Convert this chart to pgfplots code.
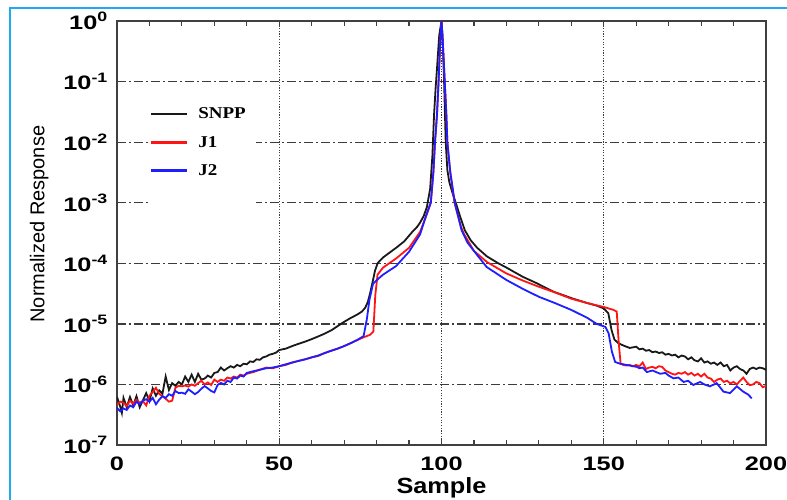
\documentclass[border=0pt]{standalone}
\usepackage{pgfplots}
\pgfplotsset{compat=1.18}
\usepackage{fontspec}
\setmainfont{Liberation Sans}
\newfontfamily\tickfont[FakeStretch=1.3]{Liberation Sans}
\newfontfamily\labfont[FakeStretch=1.15]{Liberation Sans}
\newfontfamily\legfont[FakeStretch=1.15]{Liberation Serif}
\definecolor{framebl}{RGB}{30,170,240}
\definecolor{snpp}{RGB}{25,25,25}
\definecolor{jone}{RGB}{255,20,20}
\definecolor{jtwo}{RGB}{30,30,255}
\definecolor{gridc}{RGB}{60,60,60}

\pgfplotstableread{
x y
0 6.2e-7
1 4.3e-7
1.5 3.4e-7
2 6.0e-7
3 4.2e-7
4 6.2e-7
5 4.5e-7
6 6.4e-7
7 4.2e-7
8 5.5e-7
9 7.2e-7
10 5.3e-7
11 8.6e-7
12 6.5e-7
13 8.0e-7
14 7.0e-7
15 1.35e-6
16 8.1e-7
17 1.05e-6
18 9.5e-7
19 1.1e-6
20 1.0e-6
21 1.35e-6
22 1.1e-6
23 1.45e-6
24 1.1e-6
25 1.5e-6
26 1.2e-6
27 1.25e-6
28 1.4e-6
29 1.3e-6
30 1.55e-6
31 1.6e-6
32 1.9e-6
33 1.7e-6
34 1.85e-6
35 2.0e-6
36 1.9e-6
37 2.1e-6
38 2.0e-6
39 2.2e-6
40 2.15e-6
41 2.4e-6
42 2.35e-6
43 2.6e-6
44 2.55e-6
45 2.8e-6
46 2.9e-6
47 3.1e-6
48 3.2e-6
49 3.35e-6
50 3.7e-6
52 3.9e-6
54 4.3e-6
56 4.7e-6
58 5.1e-6
60 5.6e-6
62 6.2e-6
64 6.9e-6
66 7.8e-6
68 9.2e-6
70 1.08e-5
72 1.25e-5
74 1.42e-5
75.5 1.6e-5
76.5 1.85e-5
77.3 2.3e-5
78 3.2e-5
78.8 5.0e-5
79.5 7.5e-5
80.3 1.0e-4
81 1.1e-4
82 1.25e-4
84 1.5e-4
86.3 1.85e-4
88.5 2.3e-4
91 3.3e-4
92.5 4.0e-4
93.3 4.6e-4
94.5 6.0e-4
95.5 8.5e-4
96.5 1.7e-3
97.2 6e-3
97.7 2.8e-2
98.2 8e-2
98.6 0.16
99.3 0.58
100 1
100.3 0.58
100.8 0.1
101.3 0.01
101.8 3.5e-3
102.4 2.2e-3
103.3 1.5e-3
104.4 1.0e-3
105.7 6e-4
107.2 3.5e-4
109 2.4e-4
111 1.8e-4
114 1.3e-4
117.5 1.0e-4
120 8.5e-5
125 6.0e-5
129.3 4.7e-5
134.5 3.4e-5
140.6 2.6e-5
145 2.2e-5
147.8 2.0e-5
150 1.8e-5
151.4 1.5e-5
152.4 7.9e-6
153.3 5.5e-6
154.5 4.8e-6
156 4.4e-6
158 4.0e-6
160 4.2e-6
161 3.8e-6
162 3.9e-6
163 3.6e-6
164 3.7e-6
165 3.4e-6
166 3.5e-6
167 3.3e-6
168 3.4e-6
169 3.1e-6
170 3.2e-6
171 3.0e-6
172 3.1e-6
173 2.8e-6
174 3.0e-6
175 2.9e-6
176 2.6e-6
177 2.8e-6
178 2.5e-6
179 2.4e-6
180 2.7e-6
181 2.3e-6
182 2.4e-6
183 2.2e-6
184 2.3e-6
185 2.1e-6
186 2.3e-6
187 2.0e-6
188 2.1e-6
189 1.7e-6
190 1.9e-6
191 2.0e-6
192 1.8e-6
193 1.7e-6
194 1.5e-6
195 1.8e-6
196 1.9e-6
197 1.8e-6
198 1.9e-6
199 1.85e-6
200 1.75e-6
}\snpp

\pgfplotstableread{
x y
0 4.6e-7
1 5.2e-7
2 5.0e-7
3 4.4e-7
4 5.4e-7
5 4.8e-7
6 5.6e-7
7 5.0e-7
8 5.3e-7
9 4.5e-7
10 6.5e-7
11 7.5e-7
12 8.8e-7
13 7.0e-7
14 6.4e-7
15 5.8e-7
16 5.2e-7
17 5.4e-7
18 8.8e-7
19 9.5e-7
20 9.3e-7
21 9.6e-7
22 9.2e-7
23 1.0e-6
24 9.5e-7
25 1.05e-6
26 1.15e-6
27 1.0e-6
28 1.08e-6
29 9.8e-7
30 1.2e-6
31 1.1e-6
32 1.2e-6
33 1.15e-6
34 1.3e-6
35 1.25e-6
36 1.35e-6
37 1.3e-6
38 1.45e-6
39 1.4e-6
40 1.5e-6
42 1.6e-6
44 1.75e-6
46 1.9e-6
48 1.85e-6
50 2.0e-6
52 2.1e-6
54 2.3e-6
56 2.45e-6
58 2.6e-6
60 2.8e-6
62 2.95e-6
64 3.3e-6
66 3.6e-6
68 3.9e-6
70 4.3e-6
72 4.8e-6
74 5.4e-6
76 6.0e-6
78 6.6e-6
79 7.5e-6
79.6 3.0e-5
80.3 6.5e-5
82 8.5e-5
86 1.2e-4
90 1.8e-4
93.4 3.3e-4
95.5 6.5e-4
96.7 1.0e-3
97.5 3.2e-3
98 1.0e-2
98.6 2.8e-2
99.1 0.1
99.6 0.45
100 1
100.4 0.45
101 0.1
101.5 2.8e-2
101.8 1.0e-2
102.7 3.2e-3
104 1.0e-3
106 4.0e-4
107 3.0e-4
110 1.6e-4
114 1.05e-4
120 6.8e-5
125 5.2e-5
130 4.1e-5
135 3.3e-5
140 2.6e-5
145 2.2e-5
150 1.9e-5
153 1.7e-5
154 1.6e-5
154.6 5.0e-6
155.2 2.2e-6
156 2.1e-6
157 2.05e-6
158 2.1e-6
159 2.0e-6
160 2.1e-6
161 2.0e-6
162 2.3e-6
163 1.8e-6
164 1.9e-6
165 1.95e-6
166 1.85e-6
167 2.0e-6
168 1.95e-6
169 1.7e-6
170 1.6e-6
171 1.5e-6
172 1.45e-6
173 1.55e-6
174 1.5e-6
175 1.6e-6
176 1.45e-6
177 1.55e-6
178 1.4e-6
179 1.5e-6
180 1.35e-6
181 1.5e-6
182 1.3e-6
183 1.25e-6
184 1.1e-6
185 1.2e-6
186 1.25e-6
187 1.1e-6
188 1.15e-6
189 1.04e-6
190 1.1e-6
191 1.0e-6
192 1.15e-6
193 1.3e-6
194 1.1e-6
195 0.97e-6
196 1.0e-6
197 1.1e-6
198 1.05e-6
199 0.9e-6
200 0.94e-6
}\jone

\pgfplotstableread{
x y
0 4.1e-7
1 3.6e-7
2 4.0e-7
3 3.8e-7
4 4.5e-7
5 4.2e-7
6 5.2e-7
7 4.7e-7
8 5.4e-7
9 5.7e-7
10 5.2e-7
11 6.0e-7
12 4.7e-7
13 5.6e-7
14 6.4e-7
15 6.0e-7
16 6.9e-7
17 6.5e-7
18 7.8e-7
19 7.2e-7
20 7.3e-7
21 7.0e-7
22 8.3e-7
23 7.6e-7
24 6.9e-7
25 7.5e-7
26 8.5e-7
27 9.4e-7
28 8.6e-7
29 7.8e-7
30 7.4e-7
31 9.8e-7
32 1.06e-6
33 1.0e-6
34 1.15e-6
35 1.1e-6
36 1.3e-6
37 1.25e-6
38 1.4e-6
39 1.35e-6
40 1.55e-6
42 1.65e-6
44 1.75e-6
46 1.85e-6
48 1.9e-6
50 2.0e-6
52 2.15e-6
54 2.3e-6
56 2.45e-6
58 2.6e-6
60 2.8e-6
62 3.0e-6
64 3.3e-6
66 3.6e-6
68 3.9e-6
70 4.3e-6
72 4.8e-6
74 5.4e-6
76 6.3e-6
77 1.2e-5
77.8 2.5e-5
78.9 4.6e-5
80.6 5.6e-5
82 6.5e-5
86 9.0e-5
90 1.55e-4
93.4 3.0e-4
95.4 6.5e-4
96.7 1.0e-3
97.5 3.2e-3
98 1.0e-2
98.6 2.8e-2
99.1 0.1
99.6 0.45
100 1
100.4 0.45
101 0.1
101.5 2.8e-2
101.8 1.0e-2
102.7 3.2e-3
104.1 1.0e-3
106.2 3.5e-4
108 2.2e-4
109.8 1.65e-4
113.9 8.7e-5
120 5.3e-5
125 3.8e-5
130 2.8e-5
135 2.2e-5
140 1.7e-5
145 1.25e-5
147.8 1.0e-5
150.5 8.9e-6
151.5 7.0e-6
152.5 3.5e-6
153.5 2.35e-6
155 2.2e-6
157 2.1e-6
159 2.0e-6
160.2 1.95e-6
161 1.85e-6
162 1.9e-6
163.3 1.6e-6
165 1.7e-6
167.4 1.5e-6
169 1.55e-6
170 1.4e-6
171.5 1.26e-6
173 1.3e-6
174.6 1.1e-6
176 1.15e-6
177.6 0.98e-6
179.7 1.1e-6
181 1.0e-6
182.7 0.93e-6
184.8 1.05e-6
186.9 0.76e-6
188.9 0.72e-6
191 0.93e-6
193 0.76e-6
194.5 0.68e-6
195.6 0.59e-6
}\jtwo

\begin{document}
\begin{tikzpicture}
\useasboundingbox (-117pt,-54pt) rectangle (670pt,445pt);
\fill[white] (-117pt,-54pt) rectangle (670pt,445pt);
\draw[framebl, line width=1.5pt] (-107pt,-60pt) -- (-107pt,437pt) -- (680pt,437pt);
\begin{axis}[
  at={(0pt,0pt)}, anchor=south west,
  scale only axis,
  width=649pt, height=424pt,
  ymode=log,
  xmin=0, xmax=200, ymin=1e-7, ymax=1,
  xtick={0,50,100,150,200},
  xticklabels={0,50,100,150,200},
  minor x tick num=4,
  ytick={1e-7,1e-6,1e-5,1e-4,1e-3,1e-2,1e-1,1},
  yticklabels={10\textsuperscript{-7},10\textsuperscript{-6},10\textsuperscript{-5},10\textsuperscript{-4},10\textsuperscript{-3},10\textsuperscript{-2},10\textsuperscript{-1},10\textsuperscript{0}},
  yminorticks=false,
  tick align=inside,
  major tick length=5pt, minor tick length=5pt,
  xtick style={black!75, line width=1.2pt},
  ytick style={draw=none},
  axis line style={black!75, line width=1.4pt},
  grid=major,
  x grid style={gridc, line width=1.3pt, dash pattern=on 1.2pt off 1.5pt},
  y grid style={gridc, line width=1.3pt, dash pattern=on 9pt off 3pt on 2pt off 3pt},
  xticklabel style={font=\tickfont\bfseries\fontsize{19.5}{22}\selectfont, anchor=north, inner sep=0pt, yshift=-12pt},
  yticklabel style={font=\tickfont\bfseries\fontsize{19.5}{22}\selectfont, anchor=east, inner sep=0pt, xshift=-9pt},
  xlabel={Sample},
  xlabel style={font=\labfont\bfseries\fontsize{22}{24}\selectfont, at={(axis description cs:0.5,-0.0755)}, anchor=north, inner sep=0pt},
  ylabel={Normalized Response},
  ylabel style={font=\fontsize{20}{22}\selectfont, at={(axis description cs:-0.112,0.521)}, anchor=base, rotate=0, inner sep=0pt},
  legend style={draw=none, fill=white, at={(axis description cs:0.0508,0.81)}, anchor=north west,
    inner xsep=0pt, inner ysep=4pt, row sep=12pt,
    font=\legfont\bfseries\fontsize{16.5}{18}\selectfont},
  legend cell align=left,
  legend image code/.code={\draw[#1, line width=2.6pt] (0pt,0pt) -- (36pt,0pt); \path (44pt,0pt);},
]
\addplot[snpp, line width=1.8pt] table[x=x,y=y] {\snpp};
\addlegendentry{SNPP\hspace*{8pt}}
\addplot[jone, line width=1.8pt] table[x=x,y=y] {\jone};
\addlegendentry{J1}
\addplot[jtwo, line width=1.8pt] table[x=x,y=y] {\jtwo};
\addlegendentry{J2}
\addlegendimage{empty legend}
\addlegendentry{\phantom{J2}}
\end{axis}
\end{tikzpicture}
\end{document}
